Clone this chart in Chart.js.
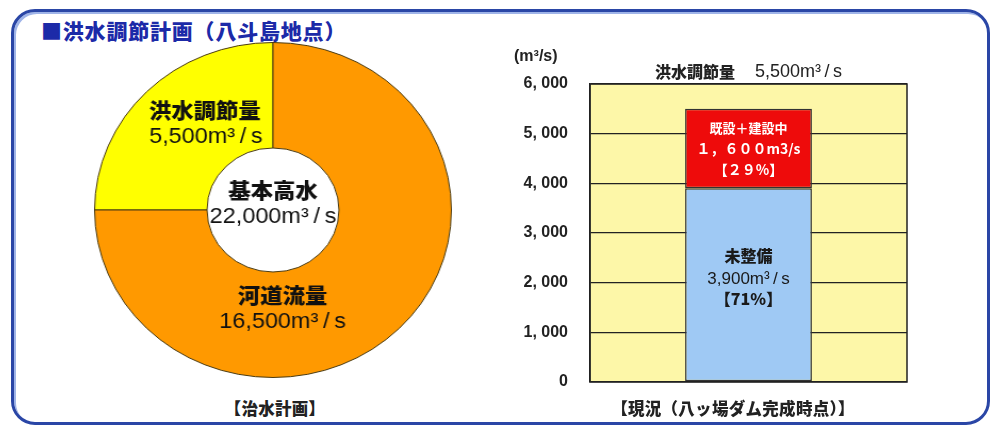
<!DOCTYPE html>
<html lang="ja">
<head>
<meta charset="utf-8">
<title>洪水調節計画（八斗島地点）</title>
<script src="https://cdn.jsdelivr.net/npm/chart.js@4/dist/chart.umd.min.js"></script>
<style>
  html, body { margin: 0; padding: 0; background: #fff; }
  body { width: 995px; height: 428px; position: relative; overflow: hidden;
         font-family: "Noto Sans CJK JP", "Liberation Sans", sans-serif; }
  .frame { position: absolute; left: 11px; top: 9px; width: 973px; height: 410px;
           border: 3px solid #2a46a6; border-radius: 24px;
           box-shadow: inset 2px 2px 0 #9fb4e8; }
  .heading { position: absolute; left: 41px; top: 15px; font-size: 21px; font-weight: 900;
             color: #1c2aa8; letter-spacing: 0.8px; }
  .caption { position: absolute; top: 396px; font-size: 16.5px; font-weight: 900; color: #222;
             transform: translateX(-50%); white-space: nowrap; letter-spacing: 0.3px; }
  #donut { position: absolute; left: 105px; top: 42px; transform: scaleX(1.065); }
  #bars { position: absolute; left: 480px; top: 30px; }
</style>
</head>
<body>
<div class="frame"></div>
<div class="heading">■洪水調節計画（八斗島地点）</div>
<canvas id="donut" width="336" height="336"></canvas>
<canvas id="bars" width="500" height="370"></canvas>
<div class="caption" style="left:275px">【治水計画】</div>
<div class="caption" style="left:733px">【現況（八ッ場ダム完成時点）】</div>

<script>
// 治水計画：基本高水の内訳
const planLabels = ['洪水調節量', '河道流量'];
const planValues = [5500, 16500];
const planColors = ['#ffff00', '#ff9900'];

// 現況：洪水調節量の整備状況
const nowLabels = ['未整備', '既設＋建設中'];
const nowValues = [3900, 1600];
const nowColors = ['#9fc9f4', '#ee0b0b'];
const yTicks = [0, 1000, 2000, 3000, 4000, 5000, 6000];

const jp = '"Noto Sans CJK JP", sans-serif';
const num = '"Liberation Sans", Arial, sans-serif';
const unit = 'm³\u2009/\u2009s';
const fmt = v => v.toLocaleString('en-US');
const fullWidth = s => s.replace(/[0-9]/g, d => String.fromCharCode(d.charCodeAt(0) + 0xFEE0));

Chart.defaults.animation = false;
Chart.defaults.plugins.legend.display = false;
Chart.defaults.plugins.tooltip.enabled = false;

// ---- ドーナツ ----
const donutText = {
  id: 'donutText',
  afterDatasetsDraw(chart) {
    const ctx = chart.ctx;
    const arc = chart.getDatasetMeta(0).data[0];
    const cx = arc.x, cy = arc.y;
    const total = planValues.reduce((a, b) => a + b, 0);
    const put = (text, x, y, font) => { ctx.font = font; ctx.fillText(text, cx + x, cy + y); };
    ctx.save();
    ctx.fillStyle = '#111';
    ctx.textAlign = 'center';
    ctx.textBaseline = 'middle';
    put(planLabels[0], -64, -100, '900 21px ' + jp);
    put(fmt(planValues[0]) + unit, -63, -73, '22px ' + num);
    put('基本高水', 0, -20, '900 21px ' + jp);
    put(fmt(total) + unit, 0, 7, '22px ' + num);
    put(planLabels[1], 9, 85, '900 21px ' + jp);
    put(fmt(planValues[1]) + unit, 9, 112, '22px ' + num);
    ctx.restore();
  }
};

new Chart(document.getElementById('donut'), {
  type: 'doughnut',
  data: {
    labels: planLabels,
    datasets: [{ data: planValues, backgroundColor: planColors, borderColor: '#4a3a10', borderWidth: 1 }]
  },
  options: {
    responsive: false,
    rotation: -90,
    cutout: '37%',
    layout: { padding: 0 }
  },
  plugins: [donutText]
});

// ---- 積み上げ棒 ----
const plotFrame = {
  id: 'plotFrame',
  beforeDraw(chart) {
    const { ctx, chartArea: a } = chart;
    ctx.save();
    ctx.fillStyle = '#fdf7a8';
    ctx.fillRect(a.left, a.top, a.right - a.left, a.bottom - a.top);
    ctx.restore();
  },
  afterDraw(chart) {
    const { ctx, chartArea: a } = chart;
    const total = nowValues.reduce((s, v) => s + v, 0);
    ctx.save();
    ctx.strokeStyle = '#222';
    ctx.lineWidth = 1.5;
    ctx.strokeRect(a.left, a.top, a.right - a.left, a.bottom - a.top);

    ctx.fillStyle = '#222';
    ctx.textBaseline = 'middle';
    ctx.font = 'bold 16px ' + num;
    ctx.textAlign = 'left';
    ctx.fillText('(m³/s)', 34, 27);

    // 表題：洪水調節量と合計
    const head = '洪水調節量';
    const val = '    ' + fmt(total) + unit;
    ctx.font = '900 16px ' + jp;
    const w1 = ctx.measureText(head).width;
    ctx.font = '18px ' + num;
    const w2 = ctx.measureText(val).width;
    const x0 = (a.left + a.right) / 2 - (w1 + w2) / 2;
    ctx.font = '900 16px ' + jp;
    ctx.fillText(head, x0, 42);
    ctx.font = '18px ' + num;
    ctx.fillText(val, x0 + w1, 42);

    // 棒の中の注記
    ctx.textAlign = 'center';
    const lo = chart.getDatasetMeta(0).data[0];
    const hi = chart.getDatasetMeta(1).data[0];
    const pct = v => Math.round(v / total * 100);

    const hy = (hi.y + hi.base) / 2;
    ctx.fillStyle = '#fff';
    ctx.font = 'bold 13px ' + jp;
    ctx.fillText(nowLabels[1], hi.x, hy - 21);
    ctx.font = 'bold 14px ' + jp;
    ctx.fillText(fullWidth(fmt(nowValues[1]).replace(',', '，')) + 'm3/s', hi.x, hy);
    ctx.fillText('【' + fullWidth(String(pct(nowValues[1]))) + '%】', hi.x, hy + 21);

    const ly = (lo.y + lo.base) / 2;
    ctx.fillStyle = '#1a1a1a';
    ctx.font = '900 16px ' + jp;
    ctx.fillText(nowLabels[0], lo.x, ly - 29);
    ctx.font = '17px ' + num;
    ctx.fillText(fmt(nowValues[0]) + unit, lo.x, ly - 6);
    ctx.font = '900 16px ' + jp;
    ctx.fillText('【' + pct(nowValues[0]) + '%】', lo.x, ly + 14);
    ctx.restore();
  }
};

new Chart(document.getElementById('bars'), {
  type: 'bar',
  data: {
    labels: ['現況'],
    datasets: nowLabels.map((name, i) => ({
      label: name,
      data: [nowValues[i]],
      backgroundColor: nowColors[i],
      borderColor: '#333',
      borderWidth: 1.5,
      borderSkipped: false,
      barPercentage: 0.4,
      categoryPercentage: 1
    }))
  },
  options: {
    responsive: false,
    layout: { padding: { left: 0, right: 73, top: 54, bottom: 18 } },
    scales: {
      x: { stacked: true, display: false },
      y: {
        stacked: true,
        min: yTicks[0],
        max: yTicks[yTicks.length - 1],
        afterBuildTicks: s => { s.ticks = yTicks.map(v => ({ value: v })); },
        // 目盛ラベルの余白が上下に足されないようにする
        afterFit: s => { s.width = 110; s.paddingTop = 0; s.paddingBottom = 0; },
        grid: { color: '#222', lineWidth: 1.3, drawTicks: false },
        border: { color: '#222', width: 1.5 },
        ticks: {
          padding: 22,
          color: '#222',
          font: { family: num, size: 16, weight: 'bold' },
          callback: v => v === 0 ? '0' : fmt(v).replace(',', ', ')
        }
      }
    }
  },
  plugins: [plotFrame]
});
</script>
</body>
</html>
